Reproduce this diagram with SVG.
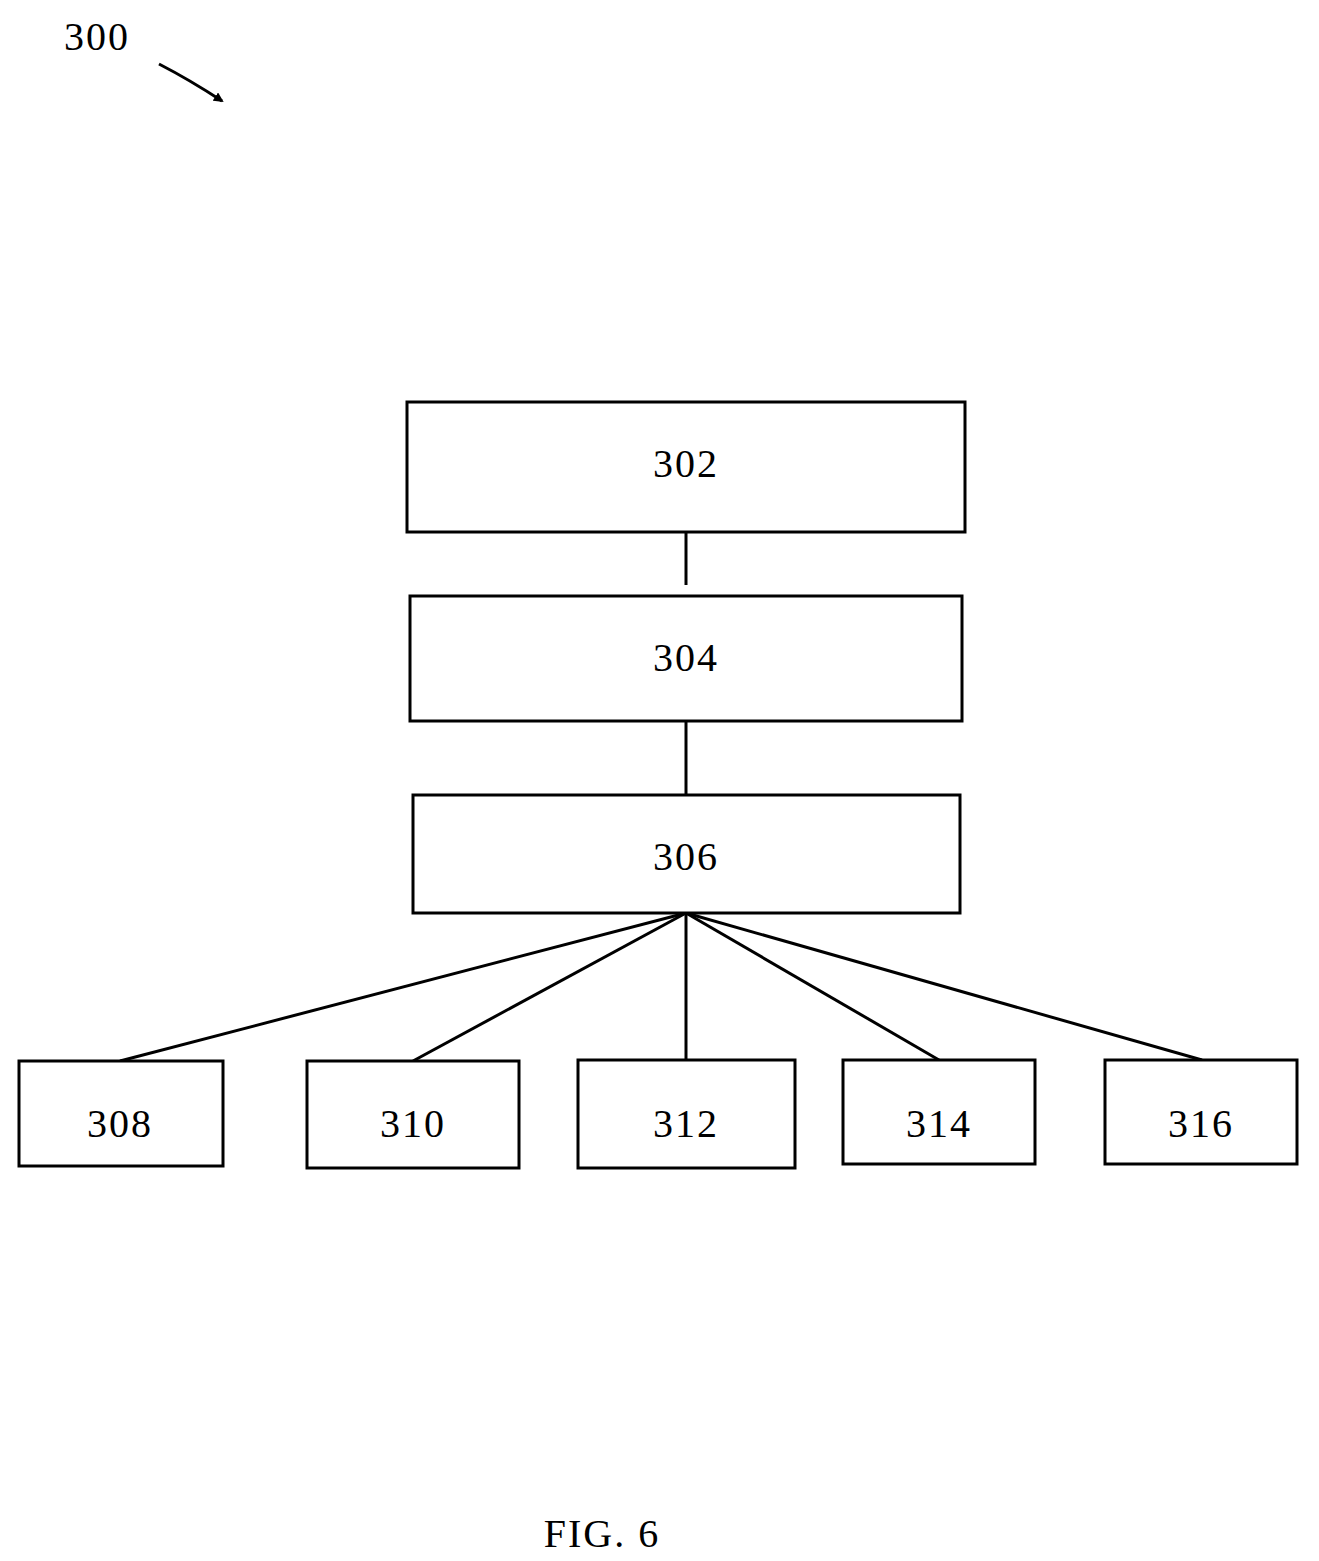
<svg xmlns="http://www.w3.org/2000/svg" width="1319" height="1561" viewBox="0 0 1319 1561">
<style>
.b{fill:#fff;stroke:#000;stroke-width:3}
.t{font-family:"Liberation Serif",serif;font-size:40px;text-anchor:middle;letter-spacing:2px}
.c{stroke:#000;stroke-width:3;fill:none}
</style>
<defs><marker id="a" markerWidth="10" markerHeight="10" refX="8" refY="5" orient="auto" markerUnits="userSpaceOnUse" viewBox="0 0 10 10"><path d="M0,0L10,5L0,10z"/></marker></defs>
<rect width="1319" height="1561" fill="#fff"/>
<text class="t" x="97" y="50">300</text>
<path class="c" d="M159,64 Q190,80 222,101" marker-end="url(#a)"/>
<g id="connectors">
<line class="c" x1="686" y1="533" x2="686" y2="585"/>
<line class="c" x1="686" y1="721" x2="686" y2="795"/>
<line class="c" x1="686" y1="913" x2="120" y2="1061"/>
<line class="c" x1="686" y1="913" x2="413" y2="1061"/>
<line class="c" x1="686" y1="913" x2="686" y2="1060"/>
<line class="c" x1="686" y1="913" x2="939" y2="1060"/>
<line class="c" x1="686" y1="913" x2="1202" y2="1060"/>
</g>
<g id="n302"><rect class="b" x="407" y="402" width="558" height="130"/><text class="t" x="686" y="477">302</text></g>
<g id="n304"><rect class="b" x="410" y="596" width="552" height="125"/><text class="t" x="686" y="671">304</text></g>
<g id="n306"><rect class="b" x="413" y="795" width="547" height="118"/><text class="t" x="686" y="870">306</text></g>
<g id="n308"><rect class="b" x="19" y="1061" width="204" height="105"/><text class="t" x="120" y="1137">308</text></g>
<g id="n310"><rect class="b" x="307" y="1061" width="212" height="107"/><text class="t" x="413" y="1137">310</text></g>
<g id="n312"><rect class="b" x="578" y="1060" width="217" height="108"/><text class="t" x="686" y="1137">312</text></g>
<g id="n314"><rect class="b" x="843" y="1060" width="192" height="104"/><text class="t" x="939" y="1137">314</text></g>
<g id="n316"><rect class="b" x="1105" y="1060" width="192" height="104"/><text class="t" x="1201" y="1137">316</text></g>
<text class="t" x="602" y="1547">FIG. 6</text>
</svg>
